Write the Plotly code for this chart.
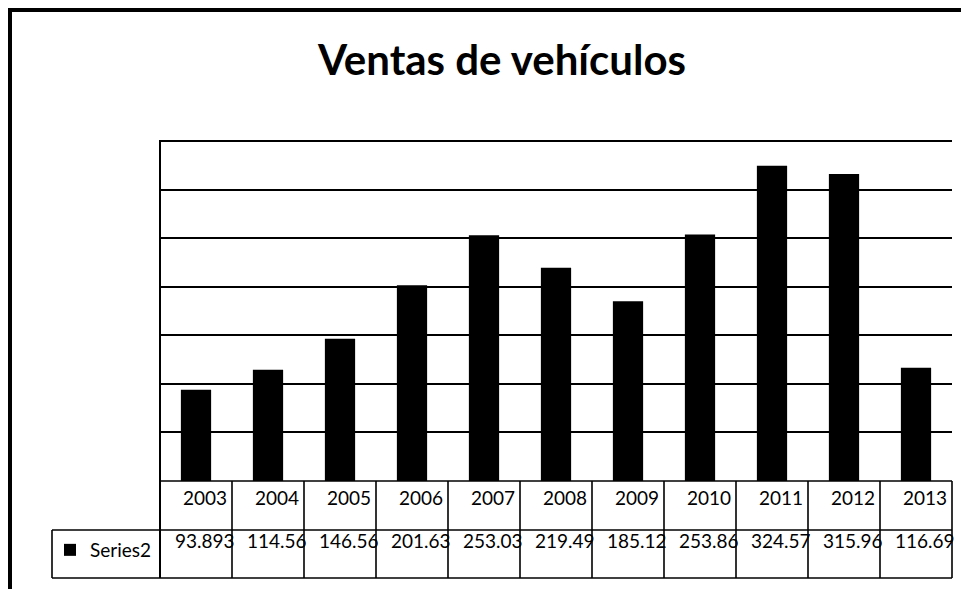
import plotly.graph_objects as go

years = ["2003", "2004", "2005", "2006", "2007", "2008", "2009", "2010", "2011", "2012", "2013"]
ventas = [93.893, 114.56, 146.56, 201.63, 253.03, 219.49, 185.12, 253.86, 324.57, 315.96, 116.69]
value_labels = ["93.893", "114.56", "146.56", "201.63", "253.03", "219.49", "185.12", "253.86", "324.57", "315.96", "116.69"]
series_name = "Series2"

W, H = 969, 589
OFF = 8  # the page body adds an 8px margin, so positions are given in window pixels minus that
FONT = "Lato"
# plot area in window pixels
px0, px1 = 160, 952
py_top, py_bot = 141, 481
row1, row2 = 530, 578
label_left = 52


def xp(px):
    return (px - OFF) / W


def yp(py):
    return 1 - (py - OFF) / H


n = len(years)
cell = (px1 - px0) / n

fig = go.Figure()
fig.add_trace(go.Bar(
    x=years, y=ventas, name=series_name,
    marker=dict(color="black", line=dict(color="black", width=0)),
    width=0.42,
))

shapes = []
line = dict(color="black", width=1.6)
# outer frame (top and left only)
shapes.append(dict(type="line", xref="paper", yref="paper", x0=xp(8), x1=1.0, y0=yp(10), y1=yp(10),
                   line=dict(color="black", width=4)))
shapes.append(dict(type="line", xref="paper", yref="paper", x0=xp(10), x1=xp(10), y0=yp(8), y1=0,
                   line=dict(color="black", width=4)))
# top edge of plot area (max gridline)
shapes.append(dict(type="line", xref="paper", yref="paper", x0=xp(px0), x1=xp(px1), y0=yp(py_top), y1=yp(py_top),
                   line=dict(color="black", width=2)))
# left border of plot + table
shapes.append(dict(type="line", xref="paper", yref="paper", x0=xp(px0), x1=xp(px0), y0=yp(py_top - 1), y1=yp(row2),
                   line=dict(color="black", width=2)))
# table horizontal lines
shapes.append(dict(type="line", xref="paper", yref="paper", x0=xp(px0), x1=xp(px1), y0=yp(py_bot), y1=yp(py_bot), line=line))
shapes.append(dict(type="line", xref="paper", yref="paper", x0=xp(label_left), x1=xp(px1), y0=yp(row1), y1=yp(row1), line=line))
shapes.append(dict(type="line", xref="paper", yref="paper", x0=xp(label_left), x1=xp(px1), y0=yp(row2), y1=yp(row2), line=line))
shapes.append(dict(type="line", xref="paper", yref="paper", x0=xp(label_left), x1=xp(label_left), y0=yp(row1), y1=yp(row2), line=line))
# table vertical lines between categories
for i in range(1, n + 1):
    bx = px0 + i * cell
    shapes.append(dict(type="line", xref="paper", yref="paper", x0=xp(bx), x1=xp(bx), y0=yp(py_bot), y1=yp(row2), line=line))

annotations = []
for i, (yr, lab) in enumerate(zip(years, value_labels)):
    annotations.append(dict(x=i, xref="x", y=yp(497), yref="paper", text=yr, showarrow=False,
                            xanchor="right", yanchor="middle", xshift=cell / 2 - 3,
                            font=dict(family=FONT, size=19, color="black")))
    annotations.append(dict(x=i, xref="x", y=yp(540), yref="paper", text=lab, showarrow=False,
                            xanchor="right", yanchor="middle", xshift=cell / 2 + 5,
                            font=dict(family=FONT, size=19, color="black")))

fig.update_layout(
    width=W, height=H,
    margin=dict(l=0, r=0, t=0, b=0),
    paper_bgcolor="white", plot_bgcolor="white",
    font=dict(family=FONT, color="black"),
    title=dict(text="<b>Ventas de vehículos</b>", x=xp(502), xanchor="center",
               y=yp(60), yanchor="middle", yref="container",
               font=dict(family=FONT, size=42, color="black")),
    xaxis=dict(domain=[xp(px0), xp(px1)], range=[-0.5, n - 0.5], type="category",
               showticklabels=False, showgrid=False, zeroline=False, showline=False, ticks=""),
    yaxis=dict(domain=[yp(py_bot), yp(py_top)], range=[0, 350], dtick=50,
               showticklabels=False, showgrid=True, gridcolor="black", gridwidth=2,
               zeroline=False, showline=False, ticks=""),
    showlegend=True,
    legend=dict(x=xp(50), y=yp(550), xanchor="left", yanchor="middle",
                bgcolor="rgba(0,0,0,0)", font=dict(family=FONT, size=19, color="black")),
    shapes=shapes,
    annotations=annotations,
)

fig.write_html("out.html")
